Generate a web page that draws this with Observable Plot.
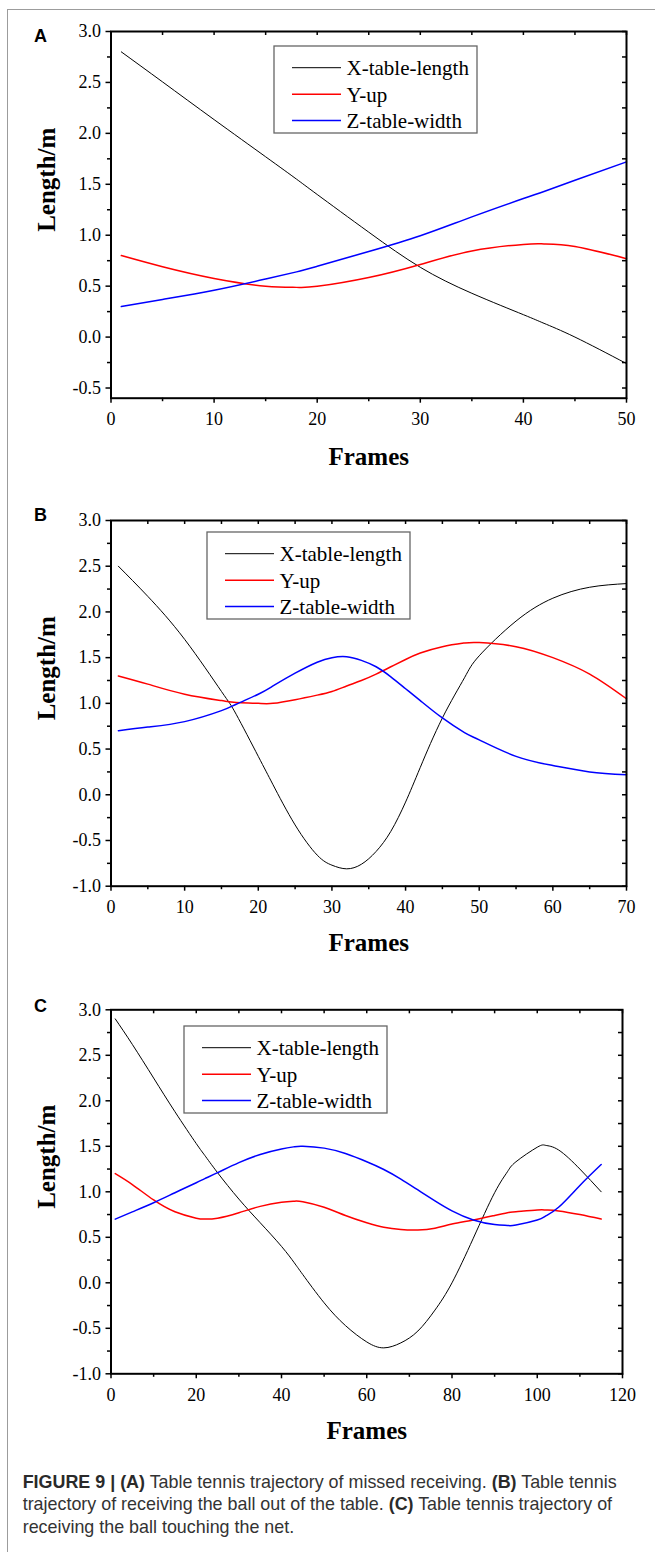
<!DOCTYPE html>
<html>
<head>
<meta charset="utf-8">
<script src="https://cdn.jsdelivr.net/npm/d3@7"></script>
<script src="https://cdn.jsdelivr.net/npm/@observablehq/plot@0.6"></script>
<style>
  html, body { margin: 0; padding: 0; background: #fff; }
  body { width: 655px; height: 1552px; position: relative; overflow: hidden; }
  #border { position: absolute; left: 7px; top: 9px; right: -20px; bottom: -20px;
            border-left: 1.5px solid #9c9c9c; border-top: 1.5px solid #9c9c9c; }
  .panel { position: absolute; left: 0; }
  .legend { position: absolute; }
  #caption { position: absolute; left: 22.7px; top: 1470.5px; font-family: "Liberation Sans", Arial, sans-serif;
             font-size: 17.9px; line-height: 22.5px; color: #333; white-space: nowrap; }
  #caption b { color: #2a2a2a; }
</style>
</head>
<body>
<div id="border"></div>
<div id="caption"><b>FIGURE 9 | (A)</b> Table tennis trajectory of missed receiving. <b>(B)</b> Table tennis<br>trajectory of receiving the ball out of the table. <b>(C)</b> Table tennis trajectory of<br>receiving the ball touching the net.</div>
<script>
// ---------- data ----------
const seriesNames = ["X-table-length", "Y-up", "Z-table-width"];
const seriesColors = ["#000000", "#ff0000", "#0000ff"];

// Panel A
const framesA = [1, 5, 10, 15, 18, 20, 25, 30, 35, 40, 42, 45, 50];
const xLenA   = [2.80, 2.505, 2.135, 1.77, 1.55, 1.40, 1.03, 0.685, 0.43, 0.22, 0.135, 0.00, -0.26];
const yUpA    = [0.80, 0.69, 0.575, 0.50, 0.488, 0.498, 0.585, 0.713, 0.845, 0.91, 0.915, 0.89, 0.77];
const zWidA   = [0.30, 0.37, 0.46, 0.57, 0.64, 0.695, 0.84, 0.995, 1.18, 1.36, 1.43, 1.54, 1.72];

// Panel B
const framesB = [1, 5, 10, 15, 17, 20, 22, 25, 28, 30, 32, 34, 36, 38, 40, 42, 45, 48, 50, 55, 60, 65, 70];
const xLenB   = [2.50, 2.17, 1.70, 1.13, 0.88, 0.42, 0.11, -0.33, -0.66, -0.77, -0.81, -0.76, -0.62, -0.40, -0.08, 0.30, 0.84, 1.28, 1.52, 1.90, 2.15, 2.27, 2.31];
const yUpB    = [1.30, 1.21, 1.10, 1.03, 1.01, 1.00, 1.00, 1.04, 1.09, 1.13, 1.19, 1.25, 1.32, 1.40, 1.48, 1.55, 1.62, 1.66, 1.665, 1.62, 1.50, 1.32, 1.05];
const zWidB   = [0.70, 0.74, 0.80, 0.92, 0.99, 1.10, 1.19, 1.33, 1.45, 1.50, 1.51, 1.47, 1.40, 1.29, 1.16, 1.03, 0.84, 0.68, 0.60, 0.42, 0.32, 0.25, 0.22];

// Panel C
const framesC = [1, 5, 10, 15, 20, 22, 25, 30, 35, 40, 43, 45, 50, 55, 60, 64, 68, 72, 76, 80, 85, 90, 93, 95, 100, 102, 105, 110, 115];
const xLenC   = [2.90, 2.62, 2.25, 1.88, 1.53, 1.40, 1.21, 0.92, 0.66, 0.40, 0.22, 0.09, -0.22, -0.47, -0.65, -0.715, -0.66, -0.53, -0.30, 0.00, 0.49, 0.99, 1.22, 1.33, 1.49, 1.51, 1.46, 1.25, 1.00];
const yUpC    = [1.20, 1.08, 0.91, 0.78, 0.71, 0.70, 0.71, 0.77, 0.84, 0.885, 0.897, 0.89, 0.83, 0.74, 0.66, 0.61, 0.585, 0.58, 0.60, 0.645, 0.69, 0.74, 0.77, 0.78, 0.80, 0.80, 0.79, 0.75, 0.70];
const zWidC   = [0.70, 0.78, 0.88, 0.99, 1.10, 1.145, 1.21, 1.32, 1.41, 1.47, 1.495, 1.50, 1.48, 1.42, 1.33, 1.245, 1.14, 1.02, 0.90, 0.79, 0.69, 0.64, 0.63, 0.635, 0.69, 0.735, 0.83, 1.07, 1.30];

// tick values
const yMajorA = [-0.5, 0, 0.5, 1, 1.5, 2, 2.5, 3];
const yMinorA = [-0.25, 0.25, 0.75, 1.25, 1.75, 2.25, 2.75];
const yMajorBC = [-1, -0.5, 0, 0.5, 1, 1.5, 2, 2.5, 3];
const yMinorBC = [-0.75, -0.25, 0.25, 0.75, 1.25, 1.75, 2.25, 2.75];
const xMajorA = [0, 10, 20, 30, 40, 50];
const xMinorA = [5, 15, 25, 35, 45];
const xMajorB = [0, 10, 20, 30, 40, 50, 60, 70];
const xMinorB = [5, 15, 25, 35, 45, 55, 65];
const xMajorC = [0, 20, 40, 60, 80, 100, 120];
const xMinorC = [10, 30, 50, 70, 90, 110];

// ---------- drawing ----------
const W = 655, ML = 110.5;
const serif = "'Liberation Serif', 'Times New Roman', serif";
const sans = "'Liberation Sans', Arial, sans-serif";

function panel(cfg) {
  const {frames, series, xDomain, yDomain, xMajor, xMinor, yMajor, yMinor,
         top, height, mt, mb, mr, letter, letterDy, framesDy} = cfg;
  const iw = W - ML - mr, ih = height - mt - mb;
  const widths = [1, 1.5, 1.5];
  const lines = series.map((vals, i) =>
    Plot.line(frames.map((f, j) => ({frame: f, value: vals[j]})),
      {x: "frame", y: "value", stroke: seriesColors[i], strokeWidth: widths[i], curve: "natural"}));
  const fmt = d => d.toFixed(1);
  const svg = Plot.plot({
    width: W, height, marginLeft: ML, marginRight: mr, marginTop: mt, marginBottom: mb,
    style: {fontFamily: serif, fontSize: "18px", color: "#000", background: "transparent", overflow: "visible"},
    x: {domain: xDomain, label: null},
    y: {domain: yDomain, label: null},
    marks: [
      ...lines,
      Plot.axisY(yMajor, {anchor: "left", tickSize: 5, tickPadding: 5, tickFormat: fmt, label: null, strokeWidth: 1.5, fontSize: 18}),
      Plot.axisY(yMinor, {anchor: "left", tickSize: 3.5, tickFormat: () => "", label: null, strokeWidth: 1.5}),
      Plot.axisX(xMajor, {anchor: "bottom", tickSize: 5, tickPadding: 9.5, label: null, strokeWidth: 1.5, fontSize: 18}),
      Plot.axisX(xMinor, {anchor: "bottom", tickSize: 3.5, tickFormat: () => "", label: null, strokeWidth: 1.5}),
      Plot.tickX([...xMajor, ...xMinor], {x: d => d, insetBottom: ih - 4, strokeWidth: 1.5}),
      Plot.tickY([...yMajor, ...yMinor], {y: d => d, insetLeft: iw - 4, strokeWidth: 1.5}),
      Plot.frame({stroke: "#000", strokeWidth: 2}),
      Plot.text(["Frames"], {frameAnchor: "bottom", dy: framesDy, lineAnchor: "bottom", text: d => d,
        fontWeight: "bold", fontSize: 25, fontFamily: serif}),
      Plot.text(["Length/m"], {frameAnchor: "left", dx: -56.5, dy: 17, rotate: -90, lineAnchor: "bottom", text: d => d,
        fontWeight: "bold", fontSize: 25, fontFamily: serif}),
      Plot.text([letter], {frameAnchor: "top-left", dx: 33.4 - ML, dy: letterDy, textAnchor: "start", lineAnchor: "bottom",
        text: d => d, fontWeight: "bold", fontSize: 18, fontFamily: sans})
    ]
  });
  svg.classList.add("panel");
  svg.style.top = top + "px";
  document.body.appendChild(svg);
}

function legend(left, top) {
  const w = 203, h = 87;
  const svg = d3.create("svg").attr("class", "legend")
    .attr("width", w + 4).attr("height", h + 4)
    .style("left", (left - 2) + "px").style("top", (top - 2) + "px");
  svg.append("rect").attr("x", 2).attr("y", 2).attr("width", w).attr("height", h)
    .attr("fill", "#fff").attr("stroke", "#666").attr("stroke-width", 1.3);
  const ys = [21.7, 48.2, 74.5];
  const widths = [1, 1.5, 1.5];
  seriesNames.forEach((name, i) => {
    svg.append("line").attr("x1", 2 + 18).attr("x2", 2 + 67).attr("y1", 2 + ys[i]).attr("y2", 2 + ys[i])
      .attr("stroke", seriesColors[i]).attr("stroke-width", widths[i]);
    svg.append("text").attr("x", 2 + 72.5).attr("y", 2 + ys[i] + 7.5)
      .attr("font-family", serif).attr("font-size", 21).attr("fill", "#000").text(name);
  });
  document.body.appendChild(svg.node());
}

panel({frames: framesA, series: [xLenA, yUpA, zWidA], xDomain: [0, 50], yDomain: [-0.6, 3],
       xMajor: xMajorA, xMinor: xMinorA, yMajor: yMajorA, yMinor: yMinorA,
       top: 0, height: 480, mt: 31, mb: 82.3, mr: W - 626, letter: "A", letterDy: 10, framesDy: 66.3});
panel({frames: framesB, series: [xLenB, yUpB, zWidB], xDomain: [0, 70], yDomain: [-1, 3],
       xMajor: xMajorB, xMinor: xMinorB, yMajor: yMajorBC, yMinor: yMinorBC,
       top: 480, height: 490, mt: 40, mb: 84.3, mr: W - 626, letter: "B", letterDy: 0, framesDy: 65});
panel({frames: framesC, series: [xLenC, yUpC, zWidC], xDomain: [0, 120], yDomain: [-1, 3],
       xMajor: xMajorC, xMinor: xMinorC, yMajor: yMajorBC, yMinor: yMinorBC,
       top: 970, height: 490, mt: 39.3, mb: 86.7, mr: W - 622, letter: "C", letterDy: 2.4, framesDy: 64.7});

legend(274.4, 46.3);
legend(206.7, 531.7);
legend(184, 1025.7);
</script>
</body>
</html>
